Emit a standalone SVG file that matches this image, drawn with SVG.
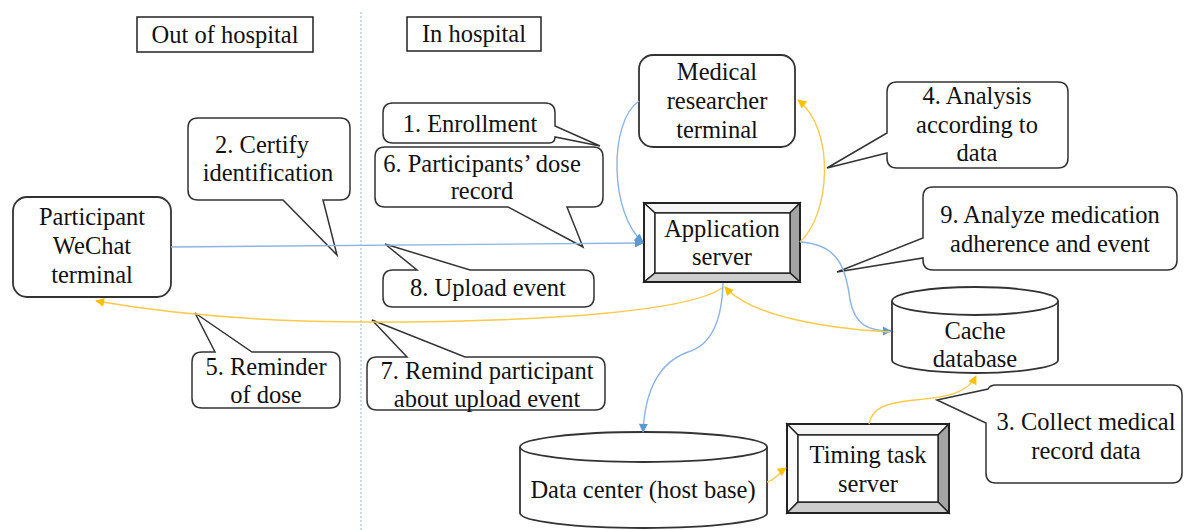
<svg xmlns="http://www.w3.org/2000/svg" width="1186" height="530" viewBox="0 0 1186 530">
<style>
text{font-family:"Liberation Serif","Times New Roman",serif;font-size:24.5px;fill:#111;text-anchor:middle}
.box{fill:#fff;stroke:#222;stroke-width:1.5}
.call{fill:#fff;stroke:#333;stroke-width:1.5;stroke-linejoin:miter}
.node{fill:#fff;stroke:#333;stroke-width:1.8}
.bv{stroke:#222;stroke-width:1.4;stroke-linejoin:miter}
.blue{fill:none;stroke:#8db4e2;stroke-width:1.4}
.yel{fill:none;stroke:#fcca4a;stroke-width:1.4}
</style>
<defs>
<marker id="ab" viewBox="0 0 10 10" refX="9" refY="5" markerWidth="10" markerHeight="9" markerUnits="userSpaceOnUse" orient="auto"><path d="M0,0 L10,5 L0,10 z" fill="#5b9bd5"/></marker>
<marker id="ay" viewBox="0 0 10 10" refX="9" refY="5" markerWidth="10" markerHeight="9" markerUnits="userSpaceOnUse" orient="auto"><path d="M0,0 L10,5 L0,10 z" fill="#ffc000"/></marker>
</defs>

<line x1="361" y1="12" x2="361" y2="530" stroke="#9dc3e6" stroke-width="1.2" stroke-dasharray="2 2"/>

<g id="out-of-hospital"><rect class="box" x="137" y="17" width="176" height="35"/><text x="225" y="43">Out of hospital</text></g>
<g id="in-hospital"><rect class="box" x="407" y="17" width="134" height="34"/><text x="474" y="42">In hospital</text></g>

<g id="participant"><rect class="node" x="13" y="197" width="158" height="100" rx="14"/>
<text x="92" y="225">Participant</text><text x="92" y="254">WeChat</text><text x="92" y="283">terminal</text></g>

<g id="medical-researcher"><rect class="node" x="639" y="55" width="156" height="92" rx="14"/>
<text x="717" y="80">Medical</text><text x="717" y="109">researcher</text><text x="717" y="138">terminal</text></g>

<g id="application-server">
<rect x="644" y="203" width="156" height="79" fill="#fff"/>
<polygon class="bv" points="644,203 800,203 790,213 655,213" fill="#f4f4f4"/>
<polygon class="bv" points="644,203 655,213 655,273 644,282" fill="#fafafa"/>
<polygon class="bv" points="800,203 800,282 790,273 790,213" fill="#a3a3a3"/>
<polygon class="bv" points="644,282 655,273 790,273 800,282" fill="#cdcdcd"/>
<rect x="655" y="213" width="135" height="60" fill="#fff" stroke="#222" stroke-width="1.4"/>
<rect x="644" y="203" width="156" height="79" fill="none" stroke="#222" stroke-width="2"/>
<text x="722" y="237">Application</text><text x="722" y="265">server</text></g>

<g id="timing-task-server">
<rect x="787" y="424" width="162" height="89" fill="#fff"/>
<polygon class="bv" points="787,424 949,424 938,435 798,435" fill="#f4f4f4"/>
<polygon class="bv" points="787,424 798,435 798,502 787,513" fill="#fafafa"/>
<polygon class="bv" points="949,424 949,513 938,502 938,435" fill="#a3a3a3"/>
<polygon class="bv" points="787,513 798,502 938,502 949,513" fill="#cdcdcd"/>
<rect x="798" y="435" width="140" height="67" fill="#fff" stroke="#222" stroke-width="1.4"/>
<rect x="787" y="424" width="162" height="89" fill="none" stroke="#222" stroke-width="2"/>
<text x="868" y="463">Timing task</text><text x="868" y="492">server</text></g>

<g id="cache-database">
<path class="node" d="M892,301 V360 A83,13 0 0 0 1058,360 V301"/>
<ellipse class="node" cx="975" cy="301" rx="83" ry="14"/>
<text x="975" y="339">Cache</text><text x="975" y="367">database</text></g>

<g id="data-center">
<path class="node" d="M520,447 V513 A123.5,15 0 0 0 767,513 V447"/>
<ellipse class="node" cx="643.5" cy="447" rx="123.5" ry="15"/>
<text x="643" y="498">Data center (host base)</text></g>

<g id="callout-1"><path class="call" d="M393,103 H545 Q555,103 555,113 V126 L600,146 L555,137 Q555,143 549,143 H393 Q383,143 383,133 V113 Q383,103 393,103 Z"/><text x="470" y="132">1. Enrollment</text></g>
<g id="callout-2"><path class="call" d="M198,118 H340 Q350,118 350,128 V190 Q350,200 340,200 H323 L337,255 L283,200 H198 Q188,200 188,190 V128 Q188,118 198,118 Z"/><text x="262" y="153">2. Certify</text><text x="268" y="181">identification</text></g>
<g id="callout-3"><path class="call" d="M996,385 H1172 Q1182,385 1182,395 V473 Q1182,483 1172,483 H996 Q986,483 986,473 V423 L937,400 L988,389 Q990,385 996,385 Z"/><text x="1086" y="430">3. Collect medical</text><text x="1086" y="459">record data</text></g>
<g id="callout-4"><path class="call" d="M897,82 H1058 Q1068,82 1068,92 V158 Q1068,168 1058,168 H897 Q887,168 887,158 V153 L827,168 L887,133 V92 Q887,82 897,82 Z"/><text x="977" y="104">4. Analysis</text><text x="977" y="133">according to</text><text x="977" y="161">data</text></g>
<g id="callout-5"><path class="call" d="M202,352 H215 L195,313 L252,352 H330 Q340,352 340,362 V398 Q340,408 330,408 H202 Q192,408 192,398 V362 Q192,352 202,352 Z"/><text x="266" y="375">5. Reminder</text><text x="266" y="403">of dose</text></g>
<g id="callout-6"><path class="call" d="M385,147 H593 Q603,147 603,157 V197 Q603,207 593,207 H567 L583,247 L508,207 H385 Q375,207 375,197 V157 Q375,147 385,147 Z"/><text x="482" y="172">6. Participants’ dose</text><text x="482" y="199">record</text></g>
<g id="callout-7"><path class="call" d="M377,357 H407 L372,320 L465,357 H595 Q605,357 605,367 V400 Q605,410 595,410 H377 Q367,410 367,400 V367 Q367,357 377,357 Z"/><text x="487" y="379">7. Remind participant</text><text x="487" y="407">about upload event</text></g>
<g id="callout-8"><path class="call" d="M393,270 H417 L385,244 L470,270 H584 Q594,270 594,280 V297 Q594,307 584,307 H393 Q383,307 383,297 V280 Q383,270 393,270 Z"/><text x="488" y="296">8. Upload event</text></g>
<g id="callout-9"><path class="call" d="M933,187 H1167 Q1177,187 1177,197 V260 Q1177,270 1167,270 H933 Q923,270 923,260 V258 L837,272 L923,238 V197 Q923,187 933,187 Z"/><text x="1050" y="223">9. Analyze medication</text><text x="1050" y="252">adherence and event</text></g>

<g id="connectors">
<path class="blue" d="M171,247 L643,243" marker-end="url(#ab)"/>
<path class="blue" d="M639,101 C608,122 610,215 643,242" marker-end="url(#ab)"/>
<path class="yel" d="M800,242 C830,215 836,130 798,100" marker-end="url(#ay)"/>
<path class="blue" d="M800,242 C838,244 846,268 850,300 C855,325 868,331 891,331" marker-end="url(#ab)"/>
<path class="yel" d="M722,288 C690,310 560,322 370,322 C250,322 160,312 96,301" marker-end="url(#ay)"/>
<path class="yel" d="M890,332 C820,328 750,315 725,287" marker-end="url(#ay)"/>
<path class="blue" d="M723,283 C722,320 712,345 688,352 C660,362 645,390 643,432" marker-end="url(#ab)"/>
<path class="yel" d="M767,482 C775,480 780,472 786,468" marker-end="url(#ay)"/>
<path class="yel" d="M869,424 C872,408 885,403 915,400 C950,397 968,392 976,376" marker-end="url(#ay)"/>
</g>
</svg>
